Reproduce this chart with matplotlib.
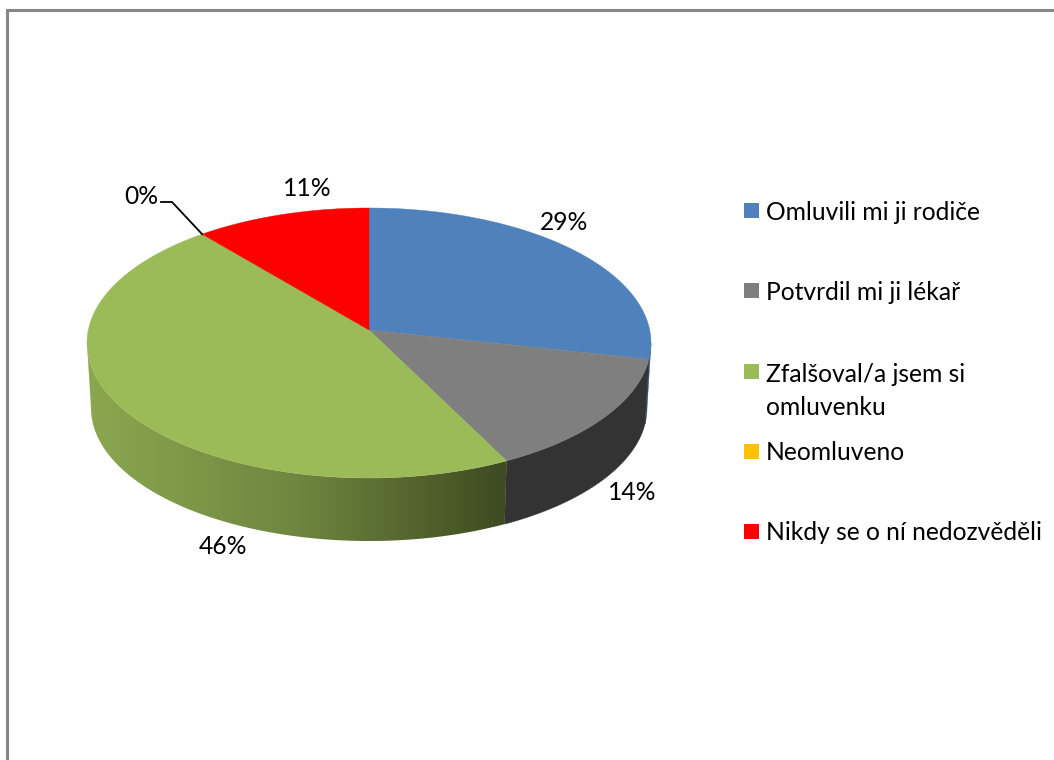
import numpy as np
import matplotlib
matplotlib.use('Agg')
import matplotlib.pyplot as plt
from matplotlib.patches import Polygon, Rectangle
from matplotlib.colors import LinearSegmentedColormap

# answers per category
categories = ['Omluvili mi ji rodiče', 'Potvrdil mi ji lékař', 'Zfalšoval/a jsem si\nomluvenku',
              'Neomluveno', 'Nikdy se o ní nedozvěděli']
counts = [8, 4, 13, 0, 3]
colors = ['#4f81bd', '#7f7f7f', '#9bbb59', '#ffc000', '#ff0000']
side_colors = ['#2f4d71', '#333333', None, '#997300', '#990000']

label_pos = [(564, 222), (632, 492), (223, 547), (141, 196), (307, 189)]
legend_y = [212, 292, 372, 453, 533]

plt.rcParams['font.family'] = ['Lato', 'DejaVu Sans']
FONT = 17.7


def rim(theta, apex=(369, 330), c=(369, 343), r=(282, 135), k=0.458):
    # where the ray from the apex hits the top ellipse
    dx, dy = np.sin(theta), -k * np.cos(theta)
    ox, oy = (apex[0] - c[0]) / r[0], (apex[1] - c[1]) / r[1]
    ux, uy = dx / r[0], dy / r[1]
    a = ux**2 + uy**2
    b = 2 * (ox * ux + oy * uy)
    d = ox**2 + oy**2 - 1
    s = (-b + np.sqrt(b**2 - 4 * a * d)) / (2 * a)
    return apex[0] + s * dx, apex[1] + s * dy


def lower(x, y, c=(369, 343), r=(282, 135), cb=(369, 408), rb=(278, 133)):
    return cb[0] + rb[0] * (x - c[0]) / r[0], cb[1] + rb[1] * (y - c[1]) / r[1]


fig = plt.figure(figsize=(10.54, 7.6), dpi=100)
ax = fig.add_axes([0, 0, 1, 1])
ax.axis('off')

fractions = np.array(counts) / sum(counts)
edges = np.concatenate([[0], np.cumsum(fractions)]) * 2 * np.pi

# chart border
ax.plot([1054, 6.5, 6.5], [10, 10, 760], color='#868686', lw=2.2, solid_joinstyle='miter')

# sides first
green_ramp = LinearSegmentedColormap.from_list('side', ['#8ba74f', '#6f8640', '#3e4a20'])
for i in range(len(counts)):
    if counts[i] == 0:
        continue
    th = np.linspace(edges[i], edges[i + 1], 600)
    x, y = rim(th)
    keep = y >= 343
    if not keep.any():
        continue
    x, y = x[keep], y[keep]
    xb, yb = lower(x, y)
    pts = np.column_stack([np.concatenate([x, xb[::-1]]), np.concatenate([y, yb[::-1]])])
    if side_colors[i] is None:
        poly = Polygon(pts, closed=True, fc='none', ec='none')
        ax.add_patch(poly)
        img = ax.imshow(np.linspace(0, 1, 256)[None, :], cmap=green_ramp, aspect='auto',
                        extent=[pts[:, 0].min(), pts[:, 0].max(), 560, 330], zorder=1)
        img.set_clip_path(poly)
    else:
        ax.add_patch(Polygon(pts, closed=True, fc=side_colors[i], ec=side_colors[i], lw=0.3, zorder=1))

# top of the pie
for i in range(len(counts)):
    if counts[i] == 0:
        continue
    th = np.linspace(edges[i], edges[i + 1], 400)
    x, y = rim(th)
    pts = np.column_stack([np.concatenate([[369], x]), np.concatenate([[330], y])])
    ax.add_patch(Polygon(pts, closed=True, fc=colors[i], ec=colors[i], lw=0.3, zorder=2))

# percent labels
for v, (lx, ly) in zip(fractions, label_pos):
    ax.text(lx, ly, f'{round(v * 100)}%', ha='center', va='center', fontsize=FONT, color='black', zorder=4)

# leader for the 0 % slice, ends on the slice itself
end_x, end_y = rim(edges[3])
ax.plot([161, 172, end_x], [202, 202, end_y], color='black', lw=1.3, zorder=3)

# legend
swatch_y = [211, 291, 372, 452, 532]
for name, c, ly, sy in zip(categories, colors, legend_y, swatch_y):
    ax.add_patch(Rectangle((744, sy - 8), 15, 15, fc=c, ec='none', zorder=3))
    ax.text(766, ly - 9 if '\n' in name else ly, name, ha='left', va='top' if '\n' in name else 'center',
            fontsize=FONT, color='black', linespacing=1.54, zorder=4)

ax.set_xlim(0, 1054)
ax.set_ylim(760, 0)
fig.savefig('out.png', dpi=100, facecolor='white')
